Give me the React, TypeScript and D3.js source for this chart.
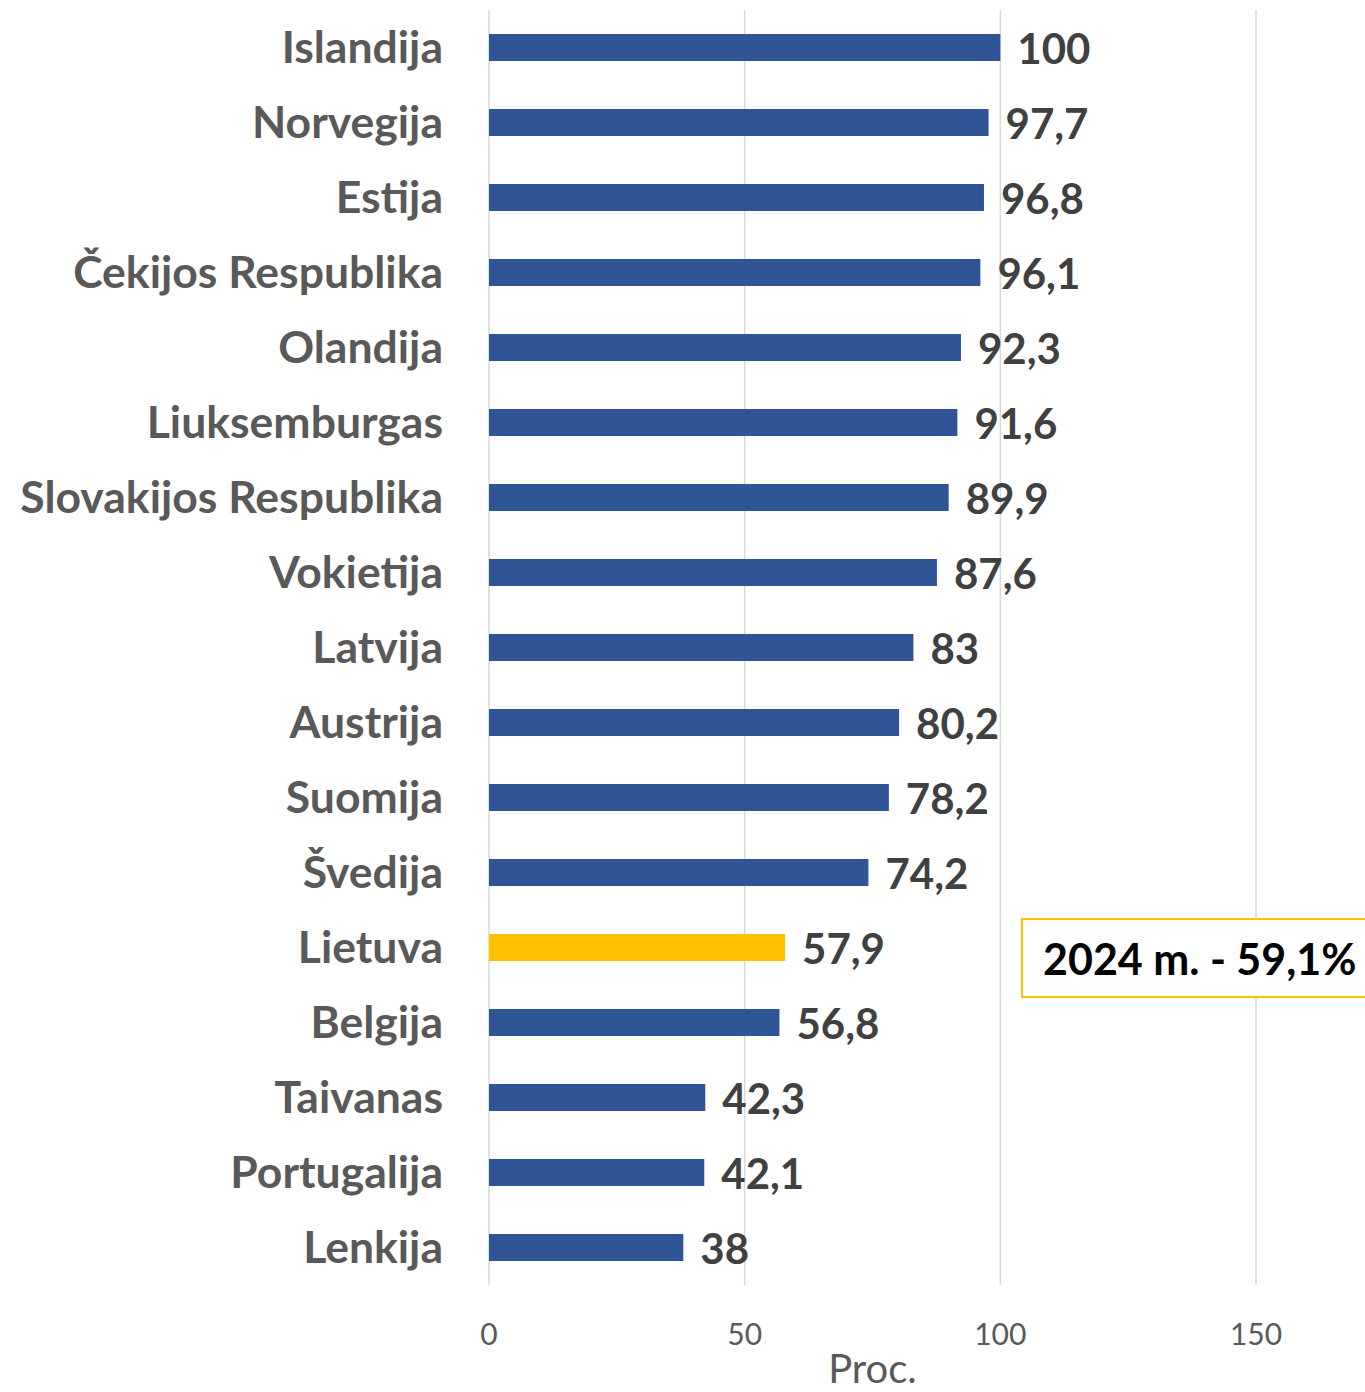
import React from "react";
import * as d3 from "d3";

const categories = [
  "Islandija", "Norvegija", "Estija", "Čekijos Respublika", "Olandija",
  "Liuksemburgas", "Slovakijos Respublika", "Vokietija", "Latvija", "Austrija",
  "Suomija", "Švedija", "Lietuva", "Belgija", "Taivanas", "Portugalija", "Lenkija",
];
const values = [100, 97.7, 96.8, 96.1, 92.3, 91.6, 89.9, 87.6, 83, 80.2, 78.2, 74.2, 57.9, 56.8, 42.3, 42.1, 38];
const highlight = "Lietuva";
const xTicks = [0, 50, 100, 150];
const axisTitle = "Proc.";
const noteText = "2024 m. - 59,1%";

const W = 1365;
const H = 1392;
const FONT = "Lato, 'Open Sans', sans-serif";

export default function App() {
  const x = d3.scaleLinear().domain([0, 150]).range([489, 1256]);
  const y = d3.scaleBand<string>().domain(categories).range([10, 1285]).paddingInner(0.64).paddingOuter(0.32);
  const fmt = (v: number) => String(v).replace(".", ",");

  return (
    <div style={{ position: "absolute", left: 0, top: 0 }}>
      <svg width={W} height={H} style={{ display: "block", background: "#fff" }}>
        {xTicks.map((t) => (
          <line key={"g" + t} x1={x(t)} x2={x(t)} y1={10} y2={1285} stroke="#D9D9D9" strokeWidth={1.5} />
        ))}
        {categories.map((c, i) => {
          const yy = y(c)!;
          const cy = yy + y.bandwidth() / 2;
          return (
            <g key={c}>
              <rect x={x(0)} y={yy} width={x(values[i]) - x(0)} height={y.bandwidth()}
                fill={c === highlight ? "#FFC000" : "#2F5597"} />
              <text x={443} y={cy + 15} textAnchor="end" fontFamily={FONT} fontWeight={700}
                fontSize={44.5} fill="#595959">{c}</text>
              <text x={x(values[i]) + 17} y={cy + 16} fontFamily={FONT} fontWeight={700}
                fontSize={42} fill="#404040">{fmt(values[i])}</text>
            </g>
          );
        })}
        {xTicks.map((t) => (
          <text key={"t" + t} x={x(t)} y={1345} textAnchor="middle" fontFamily={FONT}
            fontSize={30} fill="#595959">{t}</text>
        ))}
        <text x={(x(0) + x(150)) / 2} y={1383} textAnchor="middle" fontFamily={FONT}
          fontSize={40} fill="#595959">{axisTitle}</text>
        <rect x={1022} y={919} width={400} height={78} fill="#fff" stroke="#FFC000" strokeWidth={2} />
        <text x={1043} y={975} fontFamily={FONT} fontWeight={700} fontSize={43} fill="#000">{noteText}</text>
      </svg>
    </div>
  );
}
